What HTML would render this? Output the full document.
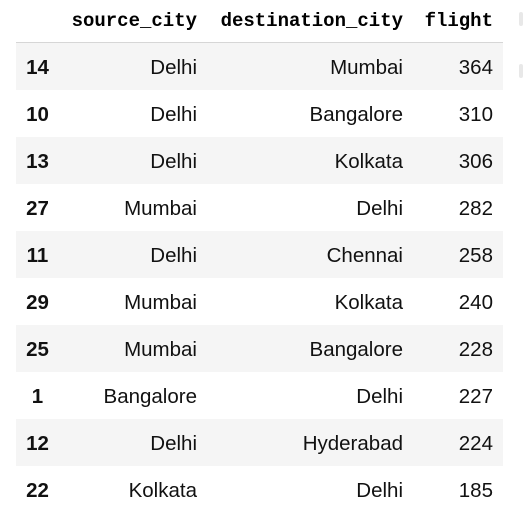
<!DOCTYPE html>
<html><head><meta charset="utf-8"><style>
body{margin:0;width:523px;height:517px;background:#fff;overflow:hidden;position:relative}
table{position:absolute;left:16px;top:0;border-collapse:collapse;width:487px;table-layout:fixed}
th{font-family:"Liberation Mono",monospace;font-weight:bold;font-size:19px;color:#000;height:42px;text-align:right;padding:0 10px 0 0;border-bottom:1.5px solid #d6d6d6;vertical-align:middle}
td{font-family:"Liberation Sans",sans-serif;font-size:20.5px;color:#111;height:45px;text-align:right;padding:2px 10px 0 0;vertical-align:middle;box-sizing:content-box}
td.idx{font-weight:bold;text-align:center;padding:2px 0 0 0}
tr.odd td{background:#f5f5f5}
.mark{position:absolute;left:519px;width:4px;height:14px;background:#e8e8e8;border-radius:2px}
</style></head><body>
<table>
<colgroup><col style="width:43px"><col style="width:148px"><col style="width:206px"><col style="width:90px"></colgroup>
<thead><tr><th></th><th>source_city</th><th>destination_city</th><th>flight</th></tr></thead>
<tbody>
<tr class="odd"><td class="idx">14</td><td>Delhi</td><td>Mumbai</td><td>364</td></tr>
<tr><td class="idx">10</td><td>Delhi</td><td>Bangalore</td><td>310</td></tr>
<tr class="odd"><td class="idx">13</td><td>Delhi</td><td>Kolkata</td><td>306</td></tr>
<tr><td class="idx">27</td><td>Mumbai</td><td>Delhi</td><td>282</td></tr>
<tr class="odd"><td class="idx">11</td><td>Delhi</td><td>Chennai</td><td>258</td></tr>
<tr><td class="idx">29</td><td>Mumbai</td><td>Kolkata</td><td>240</td></tr>
<tr class="odd"><td class="idx">25</td><td>Mumbai</td><td>Bangalore</td><td>228</td></tr>
<tr><td class="idx">1</td><td>Bangalore</td><td>Delhi</td><td>227</td></tr>
<tr class="odd"><td class="idx">12</td><td>Delhi</td><td>Hyderabad</td><td>224</td></tr>
<tr><td class="idx">22</td><td>Kolkata</td><td>Delhi</td><td>185</td></tr>
</tbody></table>
<div class="mark" style="top:12px"></div>
<div class="mark" style="top:64px"></div>
</body></html>
